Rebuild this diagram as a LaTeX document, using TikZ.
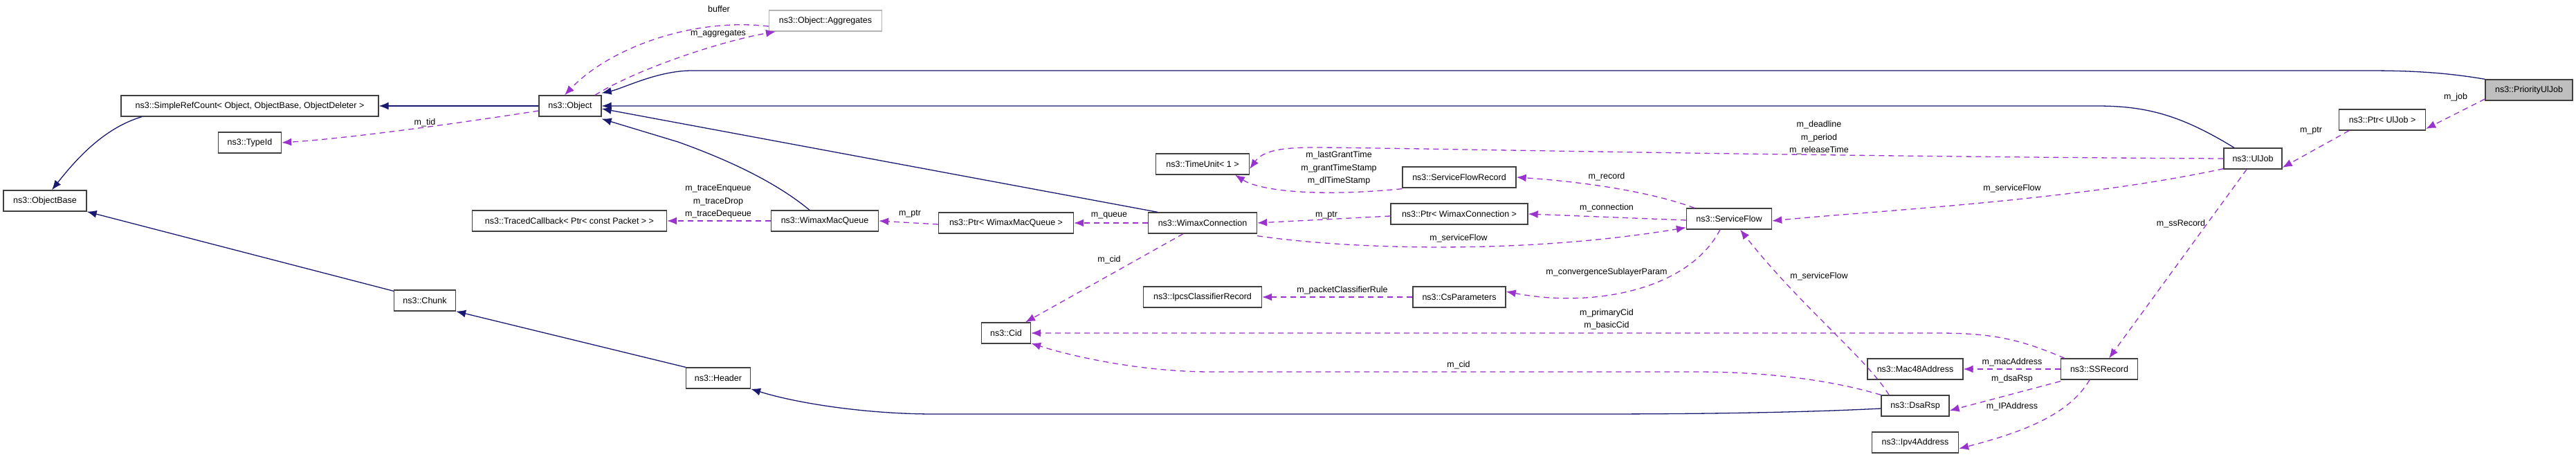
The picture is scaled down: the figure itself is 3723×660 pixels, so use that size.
\documentclass[tikz,border=0pt]{standalone}
\usepackage{fontspec}
\setmainfont{Liberation Sans}
\usetikzlibrary{arrows.meta}
\definecolor{inh}{HTML}{191970}
\definecolor{use}{HTML}{9A32CD}
\begin{document}
\begin{tikzpicture}[x=1pt,y=-1pt,
  box/.style={draw=black!75,line width=1.3pt,fill=white,inner sep=0pt,minimum height=30pt,font=\fontsize{12.5}{14}\selectfont},
  lbl/.style={inner sep=0pt,font=\fontsize{12.5}{14}\selectfont},
  inhe/.style={draw=inh,line width=1.3pt,-{Latex[length=14pt,width=11pt]}},
  usee/.style={draw=use,line width=1.3pt,dash pattern=on 8pt off 6pt,-{Latex[length=14pt,width=11pt]}}]
\useasboundingbox (0,0) rectangle (3723,660);
% nodes
\node[box,minimum width=126,fill=black!25] (pri) at (3655,130) {ns3::PriorityUlJob};
\node[box,minimum width=90] (obj) at (824,153) {ns3::Object};
\node[box,minimum width=372] (src) at (361,153) {ns3::SimpleRefCount< Object, ObjectBase, ObjectDeleter >};
\node[box,minimum width=91] (tid) at (361,206) {ns3::TypeId};
\node[box,minimum width=120] (ob) at (65,290) {ns3::ObjectBase};
\node[box,minimum width=89] (chunk) at (614,434) {ns3::Chunk};
\node[box,minimum width=163,draw=black!30] (agg) at (1193,30) {ns3::Object::Aggregates};
\node[box,minimum width=281] (tcb) at (823,319) {ns3::TracedCallback< Ptr< const Packet > >};
\node[box,minimum width=155] (wmq) at (1192,319) {ns3::WimaxMacQueue};
\node[box,minimum width=195] (pwmq) at (1454,322) {ns3::Ptr< WimaxMacQueue >};
\node[box,minimum width=157] (wc) at (1738,322) {ns3::WimaxConnection};
\node[box,minimum width=135] (tu) at (1738,237) {ns3::TimeUnit< 1 >};
\node[box,minimum width=171] (ipcs) at (1738,429) {ns3::IpcsClassifierRecord};
\node[box,minimum width=71] (cid) at (1454,481) {ns3::Cid};
\node[box,minimum width=93] (header) at (1038,546) {ns3::Header};
\node[box,minimum width=164] (sfr) at (2109,256) {ns3::ServiceFlowRecord};
\node[box,minimum width=198] (pwc) at (2109,309) {ns3::Ptr< WimaxConnection >};
\node[box,minimum width=123] (sf) at (2499,316) {ns3::ServiceFlow};
\node[box,minimum width=134] (csp) at (2109,429) {ns3::CsParameters};
\node[box,minimum width=138] (mac) at (2768,533) {ns3::Mac48Address};
\node[box,minimum width=98] (dsa) at (2768,586) {ns3::DsaRsp};
\node[box,minimum width=125] (ipv4) at (2768,639) {ns3::Ipv4Address};
\node[box,minimum width=125] (pul) at (3443,173) {ns3::Ptr< UlJob >};
\node[box,minimum width=84] (ul) at (3256,229) {ns3::UlJob};
\node[box,minimum width=111] (ssr) at (3034,533) {ns3::SSRecord};
% inheritance
\draw[inhe] (pri.north west) .. controls (3530,104) and (3480,102) .. (3420,102) -- (1000,102) .. controls (950,102) and (900,128) .. ([yshift=3pt]obj.north east);
\draw[inhe] ([xshift=-27pt]ul.north) .. controls (3150,165) and (3100,153) .. (3030,153) -- (obj.east);
\draw[inhe] ([xshift=-65pt]wc.north) -- ([yshift=-4pt]obj.east);
\draw[inhe] ([xshift=-22pt]wmq.north) .. controls (1120,262) and (1050,230) .. (980,205) -- ([yshift=-3pt]obj.south east);
\draw[inhe] (obj.west) -- (src.east);
\draw[inhe] ([xshift=-156pt]src.south) .. controls (150,185) and (110,230) .. ([xshift=10pt]ob.north);
\draw[inhe] ([yshift=-2pt]chunk.north west) -- (ob.south east);
\draw[inhe] (header.north west) -- (chunk.south east);
\draw[inhe] ([yshift=-4pt]dsa.west) .. controls (2600,596) and (2450,598) .. (2300,598) -- (1350,598) .. controls (1250,598) and (1150,582) .. (header.south east);
% usage
\draw[usee] ([yshift=-7pt]obj.west) .. controls (650,180) and (500,200) .. (tid.east);
\node[lbl] at (614,177) {m\_tid};
\draw[usee] ([yshift=-8pt]agg.west) .. controls (1000,25) and (880,70) .. ([xshift=-8pt]obj.north);
\draw[usee] ([xshift=36pt]obj.north) .. controls (920,100) and (1040,60) .. ([xshift=-72pt]agg.south);
\node[lbl] at (1039,13) {buffer};
\node[lbl] at (1038,49) {m\_aggregates};
\draw[usee] (wmq.west) -- (tcb.east);
\node[lbl] at (1038,272) {m\_traceEnqueue};
\node[lbl] at (1038,291) {m\_traceDrop};
\node[lbl] at (1038,309) {m\_traceDequeue};
\draw[usee] ([yshift=-2pt]pwmq.west) -- (wmq.east);
\node[lbl] at (1315,309) {m\_ptr};
\draw[usee] (wc.west) -- (pwmq.east);
\node[lbl] at (1603,311) {m\_queue};
\draw[usee] ([xshift=-28pt]wc.south) -- ([xshift=28pt]cid.north);
\node[lbl] at (1603,375) {m\_cid};
\draw[usee] ([yshift=-1pt]sfr.south west) .. controls (1900,285) and (1820,275) .. ([xshift=47pt]tu.south);
\draw[usee] (ul.west) .. controls (2600,226) and (2000,213) .. (1900,213) .. controls (1850,213) and (1825,218) .. ([yshift=-7pt]tu.east);
\node[lbl] at (1935,224) {m\_lastGrantTime};
\node[lbl] at (1935,243) {m\_grantTimeStamp};
\node[lbl] at (1935,261) {m\_dlTimeStamp};
\node[lbl] at (2629,180) {m\_deadline};
\node[lbl] at (2629,199) {m\_period};
\node[lbl] at (2629,217) {m\_releaseTime};
\draw[usee] ([xshift=-50pt]sf.north) .. controls (2380,275) and (2280,262) .. (sfr.east);
\node[lbl] at (2322,255) {m\_record};
\draw[usee] ([yshift=-2pt]sf.west) -- (pwc.east);
\node[lbl] at (2322,300) {m\_connection};
\draw[usee] ([yshift=-3pt]pwc.west) -- (wc.east);
\node[lbl] at (1917,311) {m\_ptr};
\draw[usee] ([yshift=-3pt]wc.south east) .. controls (1950,360) and (2200,368) .. ([yshift=3pt]sf.south west);
\node[lbl] at (2108,344) {m\_serviceFlow};
\draw[usee] ([xshift=-13pt]sf.south) .. controls (2440,420) and (2300,445) .. ([yshift=8pt]csp.east);
\node[lbl] at (2322,393) {m\_convergenceSublayerParam};
\draw[usee] (csp.west) -- (ipcs.east);
\node[lbl] at (1940,419) {m\_packetClassifierRule};
\draw[usee] ([yshift=1pt]ul.south west) .. controls (3000,290) and (2700,305) .. ([yshift=-3pt]sf.east);
\node[lbl] at (2908,272) {m\_serviceFlow};
\draw[usee] ([xshift=-48pt]pul.south) -- ([yshift=-13pt]ul.east);
\node[lbl] at (3340,189) {m\_ptr};
\draw[usee] ([yshift=-13pt]pri.west) -- ([yshift=-13pt]pul.east);
\node[lbl] at (3549,140) {m\_job};
\draw[usee] ([xshift=-9pt]ul.south) -- ([xshift=14pt]ssr.north);
\node[lbl] at (3152,323) {m\_ssRecord};
\draw[usee] ([xshift=6pt]ssr.north west) .. controls (2920,490) and (2880,481) .. (2800,481) -- (cid.east);
\node[lbl] at (2322,452) {m\_primaryCid};
\node[lbl] at (2322,470) {m\_basicCid};
\draw[usee] (ssr.west) -- (mac.east);
\node[lbl] at (2908,523) {m\_macAddress};
\draw[usee] ([yshift=-2pt]ssr.south west) -- ([yshift=-7pt]dsa.east);
\node[lbl] at (2908,547) {m\_dsaRsp};
\draw[usee] ([xshift=-14pt]ssr.south) .. controls (2990,600) and (2920,625) .. ([yshift=-9pt]ipv4.east);
\node[lbl] at (2908,587) {m\_IPAddress};
\draw[usee] ([xshift=-38pt]dsa.north) .. controls (2700,520) and (2600,440) .. ([xshift=16pt]sf.south);
\node[lbl] at (2629,399) {m\_serviceFlow};
\draw[usee] (dsa.north west) .. controls (2650,550) and (2560,537) .. (2450,537) -- (1750,537) .. controls (1650,537) and (1550,515) .. ([yshift=1pt]cid.south east);
\node[lbl] at (2108,527) {m\_cid};
\end{tikzpicture}
\end{document}
